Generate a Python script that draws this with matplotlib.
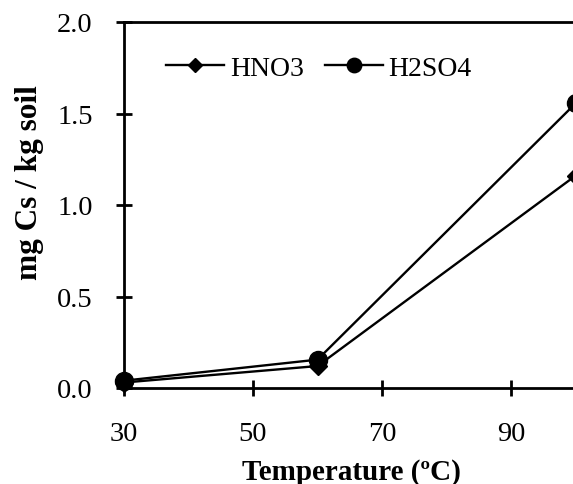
import matplotlib
matplotlib.use('Agg')
import matplotlib.pyplot as plt

# data
temperature = [30, 60, 100]
hno3 = [0.03, 0.12, 1.16]
h2so4 = [0.04, 0.155, 1.555]

x_ticks = [30, 50, 70, 90]
y_ticks = [0.0, 0.5, 1.0, 1.5, 2.0]

plt.rcParams['font.family'] = ['Liberation Serif', 'DejaVu Serif']

W, H = 573, 485
fig = plt.figure(figsize=(W / 100, H / 100), dpi=100)
# axes run past the right edge, the original figure is cropped there
left, right, top, bottom = 124, 640, 23, 389
ax = fig.add_axes([left / W, 1 - bottom / H, (right - left) / W, (bottom - top) / H])

ax.plot(temperature, hno3, color='black', lw=1.7, marker='D', ms=9,
        label='HNO3', clip_on=False, zorder=3)
ax.plot(temperature, h2so4, color='black', lw=1.7, marker='o', ms=13,
        label='H2SO4', clip_on=False, zorder=3)

ax.set_xlim(30, 110)
ax.set_ylim(0, 2.0)
ax.set_xticks(x_ticks)
ax.set_yticks(y_ticks)
ax.set_yticklabels([f'{v:.1f}' for v in y_ticks])

for s in ax.spines.values():
    s.set_linewidth(2)
ax.tick_params(direction='inout', length=11, width=2, labelsize=20.5)
ax.tick_params(axis='x', pad=18)
ax.tick_params(axis='y', pad=17)

ax.set_xlabel('Temperature (ºC)', fontsize=21, fontweight='bold')
ax.set_ylabel('mg Cs / kg soil', fontsize=22.5, fontweight='bold')
ax.xaxis.set_label_coords(0.44, -0.19)
ax.yaxis.set_label_coords(-0.155, 0.563)

ax.legend(loc='upper left', bbox_to_anchor=(0.06, 0.94), ncol=2, frameon=False,
          fontsize=20, handlelength=2.1, handletextpad=0.2, columnspacing=0.75,
          borderaxespad=0, markerscale=0.8)

fig.savefig('out.png', dpi=100)
